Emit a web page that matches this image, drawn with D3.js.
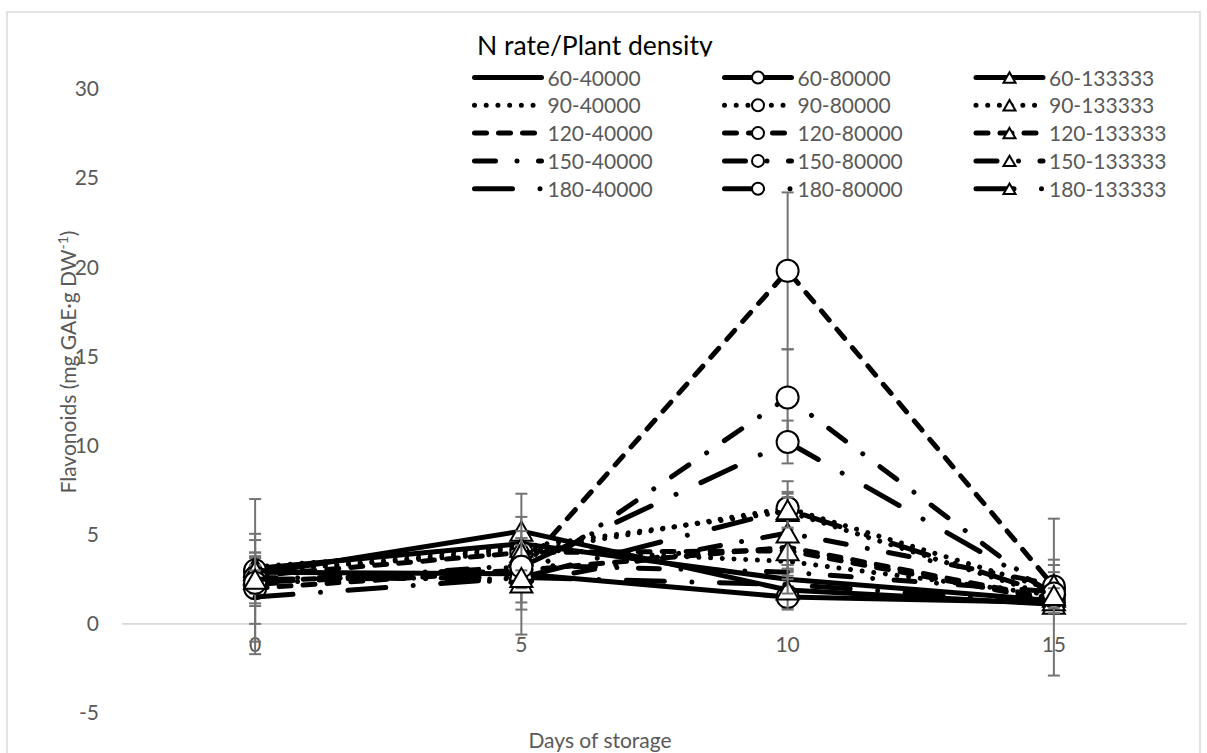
<!DOCTYPE html>
<html><head><meta charset="utf-8">
<script src="https://cdn.jsdelivr.net/npm/d3@7"></script>
<style>
body{margin:0;background:#fff}
svg{display:block}
text{font-family:Lato,"Open Sans",sans-serif}
</style>
</head><body>
<svg id="chart" width="1207" height="753"></svg>
<script>
const days = [0, 5, 10, 15];
const nRates = ["60", "90", "120", "150", "180"];
const densities = ["40000", "80000", "133333"];
const yTicks = [-5, 0, 5, 10, 15, 20, 25, 30];

// mean values, rows = N rate 60,90,120,150,180 ; columns = days 0,5,10,15
const vals40000 = [
  [3.1, 4.5, 2.5, 1.3],
  [2.9, 4.2, 3.5, 1.6],
  [2.4, 3.0, 4.3, 1.4],
  [2.2, 3.3, 2.9, 1.8],
  [1.5, 2.6, 2.2, 1.2]
];
const vals80000 = [
  [2.9, 2.8, 1.5, 1.2],
  [3.0, 4.0, 6.5, 1.9],
  [2.0, 3.0, 19.8, 2.1],
  [2.6, 2.5, 12.7, 1.5],
  [2.3, 3.2, 10.2, 1.7]
];
const vals133333 = [
  [2.8, 5.2, 1.9, 1.1],
  [3.2, 4.3, 6.3, 1.5],
  [2.7, 4.0, 4.1, 1.3],
  [3.0, 2.3, 5.1, 2.2],
  [2.5, 2.6, 6.4, 1.6]
];
// error bar half-lengths
const err40000 = [
  [1.95, 0.5, 0.4, 0.3],
  [0.6, 0.6, 0.5, 0.4],
  [1.4, 0.4, 0.6, 0.3],
  [0.5, 0.5, 0.4, 0.4],
  [3.2, 0.6, 0.5, 0.3]
];
const err80000 = [
  [0.8, 2.0, 0.6, 0.3],
  [0.7, 0.5, 1.5, 1.0],
  [2.0, 1.8, 4.4, 1.5],
  [0.6, 0.4, 2.7, 4.4],
  [0.5, 0.5, 1.2, 0.5]
];
const err133333 = [
  [0.6, 2.1, 1.1, 0.3],
  [0.8, 1.7, 1.0, 0.4],
  [0.6, 0.4, 0.8, 0.3],
  [4.0, 2.9, 2.0, 1.1],
  [0.5, 0.4, 1.0, 0.4]
];

const valsByDensity = [vals40000, vals80000, vals133333];
const errsByDensity = [err40000, err80000, err133333];
const markerByDensity = ["none", "circle", "triangle"];
const dashByRate = [null, "0.01,11.7", "12,12", "21,21.5,0.01,21.5", "38,27.5,0.01,27.5"];

const series = [];
nRates.forEach((r, i) => {
  densities.forEach((d, j) => {
    series.push({
      name: r + "-" + d, ri: i, di: j,
      values: valsByDensity[j][i], errs: errsByDensity[j][i]
    });
  });
});

const svg = d3.select("#chart");
const grey = "#595959";

// chart border
svg.append("rect").attr("x", 7).attr("y", 12).attr("width", 1193).attr("height", 760)
  .attr("fill", "none").attr("stroke", "#d9d9d9").attr("stroke-width", 1.5);

const x = d3.scaleBand().domain(days).range([122, 1187]);
const xc = d => x(d) + x.bandwidth() / 2;
const y = d3.scaleLinear().domain([-5, 30]).range([713, 89]);

// zero line
svg.append("line").attr("x1", 122).attr("x2", 1187).attr("y1", y(0)).attr("y2", y(0))
  .attr("stroke", "#d9d9d9").attr("stroke-width", 1.8);

// y axis labels
const yAxis = svg.append("g").attr("transform", "translate(99,0)")
  .call(d3.axisLeft(y).tickValues(yTicks).tickFormat(d => String(d)).tickSize(0).tickPadding(0));
yAxis.select(".domain").remove();
yAxis.selectAll("text").attr("font-size", 21).attr("fill", grey).style("font-family", "Lato");

// x axis labels
const xAxis = svg.append("g").attr("transform", "translate(0,637)")
  .call(d3.axisBottom(x).tickFormat(d => String(d)).tickSize(0).tickPadding(0));
xAxis.select(".domain").remove();
xAxis.selectAll("text").attr("font-size", 21).attr("fill", grey).style("font-family", "Lato");

// axis titles
svg.append("text").attr("x", 600).attr("y", 748).attr("text-anchor", "middle")
  .attr("font-size", 21).attr("fill", grey).text("Days of storage");
const yt = svg.append("text").attr("transform", "translate(76,362) rotate(-90)")
  .attr("text-anchor", "middle").attr("font-size", 21).attr("fill", grey);
yt.append("tspan").text("Flavonoids (mg GAE\u00B7g DW");
yt.append("tspan").attr("font-size", 14).attr("dy", -8).text("-1");
yt.append("tspan").attr("dy", 8).text(")");

const line = d3.line().x((v, k) => xc(days[k])).y(v => y(v));

function drawMarker(g, type, cx, cy, r) {
  if (type === "circle") {
    g.append("circle").attr("cx", cx).attr("cy", cy).attr("r", r)
      .attr("fill", "#fff").attr("stroke", "#000").attr("stroke-width", 2);
  } else if (type === "triangle") {
    const h = r * 0.87;
    g.append("path")
      .attr("d", `M${cx},${cy - h}L${cx + r},${cy + h}L${cx - r},${cy + h}Z`)
      .attr("fill", "#fff").attr("stroke", "#000").attr("stroke-width", 2)
      .attr("stroke-linejoin", "miter");
  }
}

const plot = svg.append("g");
series.forEach(s => {
  const g = plot.append("g");
  g.append("path").attr("d", line(s.values)).attr("fill", "none")
    .attr("stroke", "#000").attr("stroke-width", 5)
    .attr("stroke-linecap", "round").attr("stroke-linejoin", "round")
    .attr("stroke-dasharray", dashByRate[s.ri]);
  s.values.forEach((v, k) => {
    const e = s.errs[k], cx = xc(days[k]);
    g.append("line").attr("x1", cx).attr("x2", cx).attr("y1", y(v - e)).attr("y2", y(v + e))
      .attr("stroke", "#737373").attr("stroke-width", 2);
    [v - e, v + e].forEach(t => {
      g.append("line").attr("x1", cx - 6).attr("x2", cx + 6).attr("y1", y(t)).attr("y2", y(t))
        .attr("stroke", "#737373").attr("stroke-width", 2);
    });
  });
  s.values.forEach((v, k) => drawMarker(g, markerByDensity[s.di], xc(days[k]), y(v), 11));
});

// legend
const leg = svg.append("g");
svg.append("clipPath").attr("id", "titleClip").append("rect")
  .attr("x", 400).attr("y", 20).attr("width", 400).attr("height", 36.5);
leg.append("text").attr("x", 477).attr("y", 55).attr("font-size", 26.5).attr("fill", "#000")
  .attr("clip-path", "url(#titleClip)").text("N rate/Plant density");
const colX = [474.5, 724.5, 976];
series.forEach(s => {
  const lx = colX[s.di], ly = 77.5 + s.ri * 27.8;
  const sw = 67;
  leg.append("line").attr("x1", lx).attr("x2", lx + sw).attr("y1", ly).attr("y2", ly)
    .attr("stroke", "#000").attr("stroke-width", 5).attr("stroke-linecap", "round")
    .attr("stroke-dasharray", dashByRate[s.ri]);
  drawMarker(leg, markerByDensity[s.di], lx + sw / 2, ly, 6);
  leg.append("text").attr("x", lx + sw + 6).attr("y", ly + 8).attr("font-size", 21)
    .attr("fill", grey).text(s.name);
});
</script>
</body></html>
